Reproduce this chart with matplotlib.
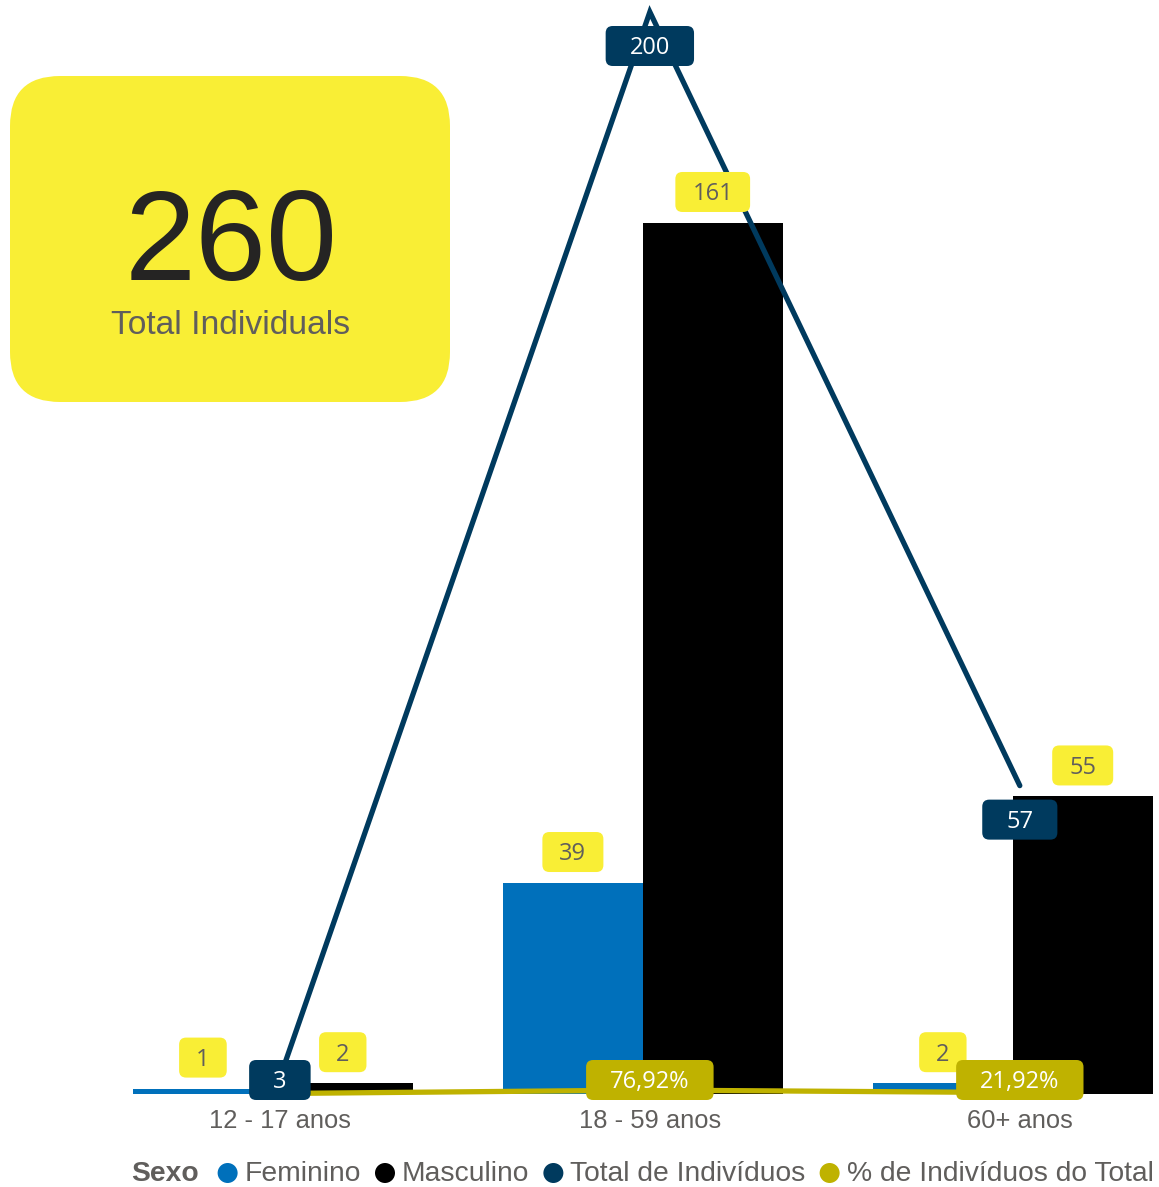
import numpy as np
import matplotlib
matplotlib.use("Agg")
import matplotlib.pyplot as plt
from matplotlib.patches import FancyBboxPatch, Circle
from matplotlib.transforms import IdentityTransform

# data
categories = ["12 - 17 anos", "18 - 59 anos", "60+ anos"]
feminino = [1, 39, 2]
masculino = [2, 161, 55]
total = [3, 200, 57]
pct = [1.15, 76.92, 21.92]
pct_shown = [False, True, True]
kpi_value = "260"
kpi_label = "Total Individuals"
legend_title = "Sexo"
series_names = ["Feminino", "Masculino", "Total de Indivíduos", "% de Indivíduos do Total"]

BLUE = "#0070BB"
BLACK = "#000000"
NAVY = "#003A5E"
OLIVE = "#BFB200"
YELLOW = "#F9EE35"
GRAY = "#605E5C"
DARK = "#252423"

plt.rcParams["font.family"] = ["Liberation Sans", "DejaVu Sans"]
LABEL_FONT = ["Open Sans", "DejaVu Sans"]

W, H = 1159, 1187
fig = plt.figure(figsize=(W / 100, H / 100), dpi=100)
ax = fig.add_axes([133 / W, 93 / H, 1020 / W, 1082 / H])
ax2 = ax.twinx()

x = np.arange(len(categories))
bw = 0.378
shift = -0.019
ax.bar(x + shift - bw / 2, feminino, bw, color=BLUE, zorder=2)
ax.bar(x + shift + bw / 2, masculino, bw, color=BLACK, zorder=2)
ax.plot(x, total, color=NAVY, lw=3.8, solid_capstyle="round",
        solid_joinstyle="miter", clip_on=False, zorder=3)
ax2.plot(x, np.array(pct) / 100, color=OLIVE, lw=3.8, clip_on=False, zorder=3)

ax.set_xlim(-0.397, 2.36)
ax.set_ylim(0, 200)
ax2.set_ylim(-0.1, 240)
for a in (ax, ax2):
    for s in a.spines.values():
        s.set_visible(False)
    a.set_yticks([])
ax.set_xticks(x, categories)
ax.tick_params(axis="x", length=0, pad=10.5, labelsize=18.4, labelcolor=GRAY)

renderer = fig.canvas.get_renderer()
ID = IdentityTransform()


def tag(cx, cy, s, fc, tc, padx):
    t = fig.text(cx, cy - 8.4, s, transform=ID, ha="center", va="baseline",
                 fontsize=17, color=tc, family=LABEL_FONT, zorder=6)
    w = t.get_window_extent(renderer).width
    box = FancyBboxPatch((cx - w / 2 - padx, cy - 20), w + 2 * padx, 40,
                         boxstyle="round,pad=0,rounding_size=7",
                         transform=ID, fc=fc, ec="none", zorder=5)
    fig.add_artist(box)


base = ax.transData.transform((0, 0))[1]

# bar labels
for i in range(len(categories)):
    for off, vals in ((-bw / 2, feminino), (bw / 2, masculino)):
        px, py = ax.transData.transform((x[i] + shift + off, vals[i]))
        tag(px, py + 31, str(vals[i]), YELLOW, GRAY, 17)

# total labels
for i in range(len(categories)):
    px, py = ax.transData.transform((x[i], total[i]))
    tag(px, max(py - 34, base + 14), str(total[i]), NAVY, "white", 24)

# percent labels
for i in range(len(categories)):
    if not pct_shown[i]:
        continue
    px, py = ax2.transData.transform((x[i], pct[i] / 100))
    s = f"{pct[i]:.2f}%".replace(".", ",")
    tag(px, max(py - 34, base + 14), s, OLIVE, "white", 24)

# KPI card
card = FancyBboxPatch((10, H - 402), 440, 326, boxstyle="round,pad=0,rounding_size=50",
                      transform=ID, fc=YELLOW, ec="none", zorder=1)
fig.add_artist(card)
fig.text(231, H - 280, kpi_value, transform=ID, ha="center", va="baseline",
         fontsize=92, color=DARK)
fig.text(231, H - 334, kpi_label, transform=ID, ha="center", va="baseline",
         fontsize=24.2, color=GRAY)

# legend
ly = H - 1181
cy = H - 1173
t = fig.text(131, ly, legend_title, transform=ID, ha="left", va="baseline",
             fontsize=20.3, fontweight="bold", color=GRAY)
xr = t.get_window_extent(renderer).x1 + 19
for name, col in zip(series_names, [BLUE, BLACK, NAVY, OLIVE]):
    fig.add_artist(Circle((xr + 10, cy), 10, transform=ID, fc=col, ec="none"))
    t = fig.text(xr + 27, ly, name, transform=ID, ha="left", va="baseline",
                 fontsize=20.3, color=GRAY)
    xr = t.get_window_extent(renderer).x1 + 14

fig.savefig("out.png", dpi=100)
